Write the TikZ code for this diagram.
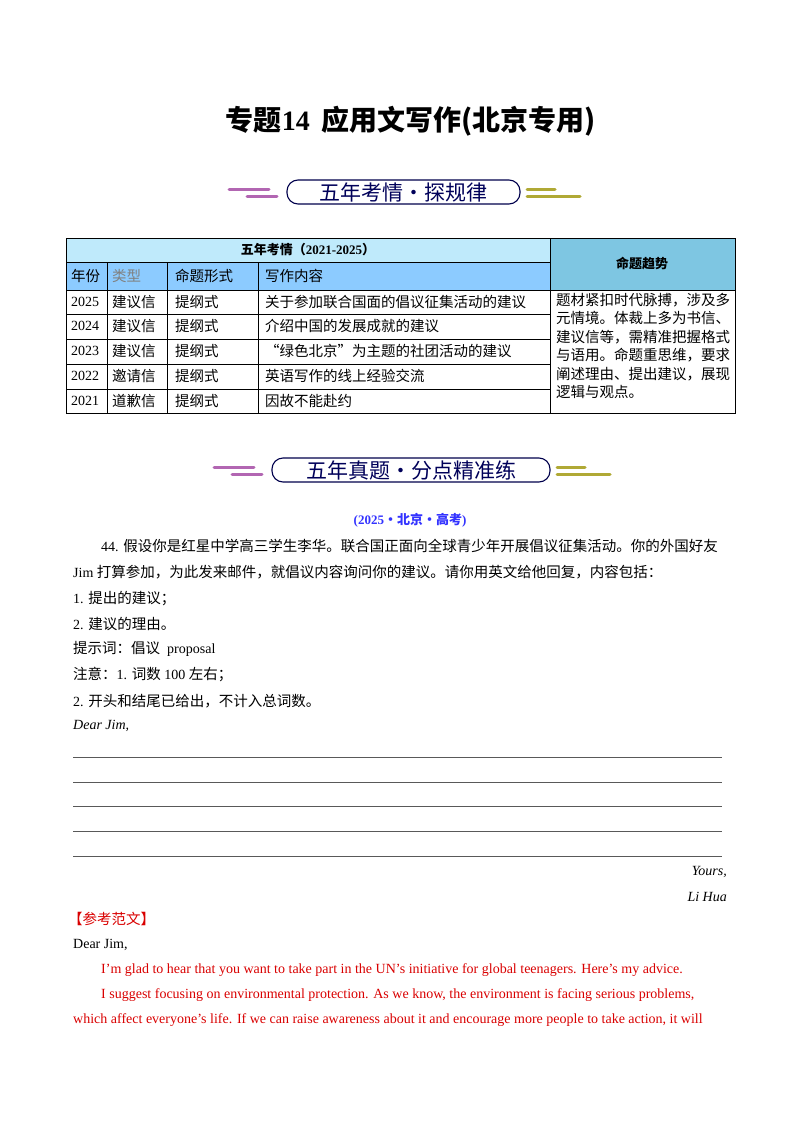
\documentclass[tikz,border=0pt]{standalone}
\usepackage{fontspec}
\setmainfont{Liberation Serif}
\newfontfamily\cjk{Noto Sans CJK SC}
\begin{document}
\begin{tikzpicture}[x=1pt,y=-1pt,
 txt/.style={anchor=west,inner sep=0pt,font=\fontsize{14}{16}\selectfont},
 red/.style={txt,text=red!85!black},
 cell/.style={anchor=west,inner sep=0pt,font=\fontsize{14}{16}\selectfont},
 cc/.style={cell,font=\fontsize{14.5}{16}\selectfont\cjk},
 hl/.style={line width=3pt,line cap=round},
 rl/.style={line width=0.6pt,gray!70!black}]
\useasboundingbox (0,0) rectangle (800,1132);
\node[inner sep=0pt,font=\fontsize{28}{30}\selectfont\bfseries] (title) at (411,121) {{\cjk\bfseries 专题}14\ \,{\cjk\bfseries 应用文写作(北京专用)}};
\foreach \y/\oa/\ob/\t/\n in {192/287/520/五年考情・探规律/b1, 470/272/550/五年真题・分点精准练/b2}{
 \draw[line width=1.1pt,blue!30!black,rounded corners=11pt] (\oa,\y-12) rectangle (\ob,\y+12);
 \node[inner sep=0pt,font=\fontsize{21}{22}\selectfont\cjk,text=blue!35!black] (\n) at ({(\oa+\ob)/2},\y) {\t};
 \draw[hl,violet!60] (\oa-58,\y-3) -- (\oa-18,\y-3);
 \draw[hl,violet!60] (\oa-40,\y+4) -- (\oa-10,\y+4);
 \draw[hl,olive!70] (\ob+7,\y-3) -- (\ob+35,\y-3);
 \draw[hl,olive!70] (\ob+7,\y+4) -- (\ob+60,\y+4);
}
\fill[cyan!25!white] (66,238) rectangle (550,262);
\fill[blue!45!cyan!45!white] (66,262) rectangle (550,290);
\fill[cyan!45!white!80!teal] (550,238) rectangle (735,290);
\draw[line width=0.6pt] (66,238) rectangle (735,413);
\draw[line width=0.6pt] (550,238) -- (550,413) (66,262) -- (550,262) (66,290) -- (735,290);
\foreach \x in {107,167,258} \draw[line width=0.6pt] (\x,262) -- (\x,413);
\foreach \y in {314,339,364,389} \draw[line width=0.6pt] (66,\y) -- (550,\y);
\node[inner sep=0pt,font=\fontsize{13}{14}\selectfont\bfseries] (th) at (308,250) {{\cjk\bfseries 五年考情}{\cjk（}2021-2025{\cjk）}};
\node[inner sep=0pt,font=\fontsize{13}{14}\selectfont\cjk\bfseries] (tr) at (642,263) {命题趋势};
\node[cc] (h1) at (71,276) {年份};
\node[cc,text=gray] (h2) at (112,276) {类型};
\node[cc] (h3) at (175,276) {命题形式};
\node[cc] (h4) at (265,276) {写作内容};
\foreach \y/\a/\b/\c/\i in {302/2025/建议信/关于参加联合国面的倡议征集活动的建议/1,
 326/2024/建议信/介绍中国的发展成就的建议/2,
 351/2023/建议信/“绿色北京”为主题的社团活动的建议/3,
 376/2022/邀请信/英语写作的线上经验交流/4,
 401/2021/道歉信/因故不能赴约/5}{
 \node[cell] (y\i) at (71,\y) {\a};
 \node[cc] (t\i) at (112,\y) {\b};
 \node[cc] (f\i) at (175,\y) {提纲式};
 \node[cc] (c\i) at (265,\y) {\c};
}
\node[anchor=north west,inner sep=0pt,align=left,font=\fontsize{14.5}{18.4}\selectfont\cjk] (trend) at (556,293) {题材紧扣时代脉搏，涉及多\\元情境。体裁上多为书信、\\建议信等，需精准把握格式\\与语用。命题重思维，要求\\阐述理由、提出建议，展现\\逻辑与观点。};
\node[inner sep=0pt,font=\fontsize{13}{14}\selectfont\bfseries,text=blue!80!white] (src) at (410,520) {(2025{\cjk\bfseries ·北京·高考})};
\node[txt] (q1) at (101,546) {44. {\cjk\fontsize{14.5}{16}\selectfont 假设你是红星中学高三学生李华。联合国正面向全球青少年开展倡议征集活动。你的外国好友}};
\node[txt] (q2) at (73,572) {Jim {\cjk\fontsize{14.5}{16}\selectfont 打算参加，为此发来邮件，就倡议内容询问你的建议。请你用英文给他回复，内容包括：}};
\node[txt] (q3) at (73,599) {1. {\cjk\fontsize{14.5}{16}\selectfont 提出的建议；}};
\node[txt] (q4) at (73,624) {2. {\cjk\fontsize{14.5}{16}\selectfont 建议的理由。}};
\node[txt] (q5) at (73,649) {{\cjk\fontsize{14.5}{16}\selectfont 提示词：倡议}\ \ proposal};
\node[txt] (q6) at (73,675) {{\cjk\fontsize{14.5}{16}\selectfont 注意：}1. {\cjk\fontsize{14.5}{16}\selectfont 词数} 100 {\cjk\fontsize{14.5}{16}\selectfont 左右；}};
\node[txt] (q7) at (73,701) {2. {\cjk\fontsize{14.5}{16}\selectfont 开头和结尾已给出，不计入总词数。}};
\node[txt,font=\fontsize{14}{16}\selectfont\itshape] (dj) at (73,726) {Dear Jim,};
\foreach \y in {757,782,806,831,856} \draw[rl] (73,\y) -- (722,\y);
\node[txt,anchor=east,font=\fontsize{14}{16}\selectfont\itshape] (yo) at (727,872) {Yours,};
\node[txt,anchor=east,font=\fontsize{14}{16}\selectfont\itshape] (lh) at (727,897) {Li Hua};
\node[red,font=\fontsize{14.5}{16}\selectfont\cjk] (ck) at (68,919) {【参考范文】};
\node[txt] (d2) at (73,945) {Dear Jim,};
\node[red] (r1) at (101,970) {I’m glad to hear that you want to take part in the UN’s initiative for global teenagers. Here’s my advice.};
\node[red] (r2) at (101,995) {I suggest focusing on environmental protection. As we know, the environment is facing serious problems,};
\node[red] (r3) at (73,1020) {which affect everyone’s life. If we can raise awareness about it and encourage more people to take action, it will};
\end{tikzpicture}
\end{document}
